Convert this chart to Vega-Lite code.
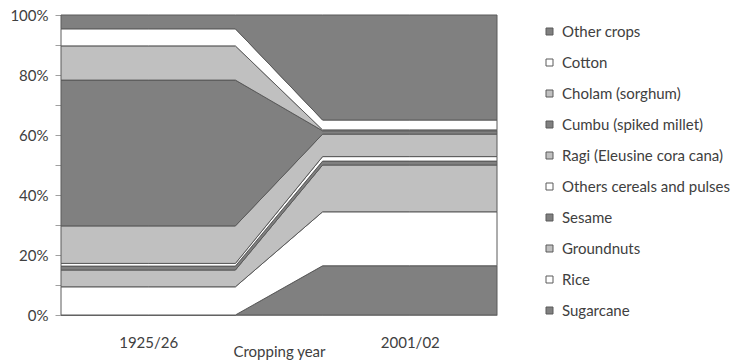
{
  "$schema": "https://vega.github.io/schema/vega-lite/v6.json",
  "width": 436,
  "height": 300,
  "autosize": "none",
  "padding": {"left": 61, "top": 15, "right": 241, "bottom": 47},
  "background": "white",
  "config": {"view": {"stroke": null}, "font": "Lato"},
  "data": {
    "values": [
      {"crop": "Sugarcane", "k": 1, "slot": 0, "share": 0},
      {"crop": "Sugarcane", "k": 1, "slot": 1, "share": 0},
      {"crop": "Sugarcane", "k": 1, "slot": 2, "share": 0},
      {"crop": "Sugarcane", "k": 1, "slot": 3, "share": 16.4},
      {"crop": "Sugarcane", "k": 1, "slot": 4, "share": 16.4},
      {"crop": "Sugarcane", "k": 1, "slot": 5, "share": 16.4},
      {"crop": "Rice", "k": 2, "slot": 0, "share": 9.4},
      {"crop": "Rice", "k": 2, "slot": 1, "share": 9.4},
      {"crop": "Rice", "k": 2, "slot": 2, "share": 9.4},
      {"crop": "Rice", "k": 2, "slot": 3, "share": 18.0},
      {"crop": "Rice", "k": 2, "slot": 4, "share": 18.0},
      {"crop": "Rice", "k": 2, "slot": 5, "share": 18.0},
      {"crop": "Groundnuts", "k": 3, "slot": 0, "share": 5.6},
      {"crop": "Groundnuts", "k": 3, "slot": 1, "share": 5.6},
      {"crop": "Groundnuts", "k": 3, "slot": 2, "share": 5.6},
      {"crop": "Groundnuts", "k": 3, "slot": 3, "share": 15.6},
      {"crop": "Groundnuts", "k": 3, "slot": 4, "share": 15.6},
      {"crop": "Groundnuts", "k": 3, "slot": 5, "share": 15.6},
      {"crop": "Sesame", "k": 4, "slot": 0, "share": 1.3},
      {"crop": "Sesame", "k": 4, "slot": 1, "share": 1.3},
      {"crop": "Sesame", "k": 4, "slot": 2, "share": 1.3},
      {"crop": "Sesame", "k": 4, "slot": 3, "share": 1.3},
      {"crop": "Sesame", "k": 4, "slot": 4, "share": 1.3},
      {"crop": "Sesame", "k": 4, "slot": 5, "share": 1.3},
      {"crop": "Others cereals and pulses", "k": 5, "slot": 0, "share": 0.9},
      {"crop": "Others cereals and pulses", "k": 5, "slot": 1, "share": 0.9},
      {"crop": "Others cereals and pulses", "k": 5, "slot": 2, "share": 0.9},
      {"crop": "Others cereals and pulses", "k": 5, "slot": 3, "share": 1.5},
      {"crop": "Others cereals and pulses", "k": 5, "slot": 4, "share": 1.5},
      {"crop": "Others cereals and pulses", "k": 5, "slot": 5, "share": 1.5},
      {"crop": "Ragi (Eleusine cora cana)", "k": 6, "slot": 0, "share": 12.5},
      {"crop": "Ragi (Eleusine cora cana)", "k": 6, "slot": 1, "share": 12.5},
      {"crop": "Ragi (Eleusine cora cana)", "k": 6, "slot": 2, "share": 12.5},
      {"crop": "Ragi (Eleusine cora cana)", "k": 6, "slot": 3, "share": 7.5},
      {"crop": "Ragi (Eleusine cora cana)", "k": 6, "slot": 4, "share": 7.5},
      {"crop": "Ragi (Eleusine cora cana)", "k": 6, "slot": 5, "share": 7.5},
      {"crop": "Cumbu (spiked millet)", "k": 7, "slot": 0, "share": 48.6},
      {"crop": "Cumbu (spiked millet)", "k": 7, "slot": 1, "share": 48.6},
      {"crop": "Cumbu (spiked millet)", "k": 7, "slot": 2, "share": 48.6},
      {"crop": "Cumbu (spiked millet)", "k": 7, "slot": 3, "share": 1.1},
      {"crop": "Cumbu (spiked millet)", "k": 7, "slot": 4, "share": 1.1},
      {"crop": "Cumbu (spiked millet)", "k": 7, "slot": 5, "share": 1.1},
      {"crop": "Cholam (sorghum)", "k": 8, "slot": 0, "share": 11.4},
      {"crop": "Cholam (sorghum)", "k": 8, "slot": 1, "share": 11.4},
      {"crop": "Cholam (sorghum)", "k": 8, "slot": 2, "share": 11.4},
      {"crop": "Cholam (sorghum)", "k": 8, "slot": 3, "share": 0.3},
      {"crop": "Cholam (sorghum)", "k": 8, "slot": 4, "share": 0.3},
      {"crop": "Cholam (sorghum)", "k": 8, "slot": 5, "share": 0.3},
      {"crop": "Cotton", "k": 9, "slot": 0, "share": 5.7},
      {"crop": "Cotton", "k": 9, "slot": 1, "share": 5.7},
      {"crop": "Cotton", "k": 9, "slot": 2, "share": 5.7},
      {"crop": "Cotton", "k": 9, "slot": 3, "share": 3.3},
      {"crop": "Cotton", "k": 9, "slot": 4, "share": 3.3},
      {"crop": "Cotton", "k": 9, "slot": 5, "share": 3.3},
      {"crop": "Other crops", "k": 10, "slot": 0, "share": 4.6},
      {"crop": "Other crops", "k": 10, "slot": 1, "share": 4.6},
      {"crop": "Other crops", "k": 10, "slot": 2, "share": 4.6},
      {"crop": "Other crops", "k": 10, "slot": 3, "share": 35.0},
      {"crop": "Other crops", "k": 10, "slot": 4, "share": 35.0},
      {"crop": "Other crops", "k": 10, "slot": 5, "share": 35.0}
    ]
  },
  "mark": {"type": "area", "stroke": "#5a5a5a", "strokeWidth": 1, "fillOpacity": 1, "opacity": 1, "interpolate": "linear"},
  "encoding": {
    "x": {
      "field": "slot",
      "type": "quantitative",
      "scale": {"domain": [0, 5], "nice": false, "zero": false},
      "axis": {
        "values": [1, 4],
        "labelExpr": "datum.value == 1 ? '1925/26' : '2001/02'",
        "ticks": false,
        "grid": false,
        "domain": true,
        "domainColor": "#a0a0a0",
        "labelFont": "Lato",
        "labelFontSize": 15,
        "labelColor": "#404040",
        "labelPadding": 20,
        "title": "Cropping year",
        "titleFont": "Lato",
        "titleFontSize": 15,
        "titleFontWeight": "normal",
        "titleColor": "#404040",
        "titlePadding": -6
      }
    },
    "y": {
      "field": "share",
      "type": "quantitative",
      "stack": "zero",
      "scale": {"domain": [0, 100], "nice": false},
      "axis": {
        "values": [0, 10, 20, 30, 40, 50, 60, 70, 80, 90, 100],
        "labelExpr": "datum.value % 20 == 0 ? datum.value + '%' : ''",
        "grid": false,
        "domain": true,
        "domainColor": "#a0a0a0",
        "tickColor": "#a0a0a0",
        "tickSize": 6,
        "labelPadding": 7,
        "labelFont": "Lato",
        "labelFontSize": 15,
        "labelColor": "#404040",
        "title": null
      }
    },
    "order": {"field": "k", "type": "quantitative", "sort": "ascending"},
    "color": {
      "field": "crop",
      "type": "nominal",
      "scale": {
        "domain": ["Other crops", "Cotton", "Cholam (sorghum)", "Cumbu (spiked millet)", "Ragi (Eleusine cora cana)", "Others cereals and pulses", "Sesame", "Groundnuts", "Rice", "Sugarcane"],
        "range": ["#808080", "#ffffff", "#c0c0c0", "#808080", "#c0c0c0", "#ffffff", "#808080", "#c0c0c0", "#ffffff", "#808080"]
      },
      "legend": {
        "orient": "none",
        "legendX": 481,
        "legendY": 9,
        "title": null,
        "symbolType": "square",
        "symbolSize": 49,
        "symbolStrokeColor": "#5a5a5a",
        "symbolStrokeWidth": 1,
        "symbolOpacity": 1,
        "labelFont": "Lato",
        "labelFontSize": 15,
        "labelColor": "#404040",
        "labelOffset": 5,
        "rowPadding": 15,
        "labelLimit": 300
      }
    }
  }
}
